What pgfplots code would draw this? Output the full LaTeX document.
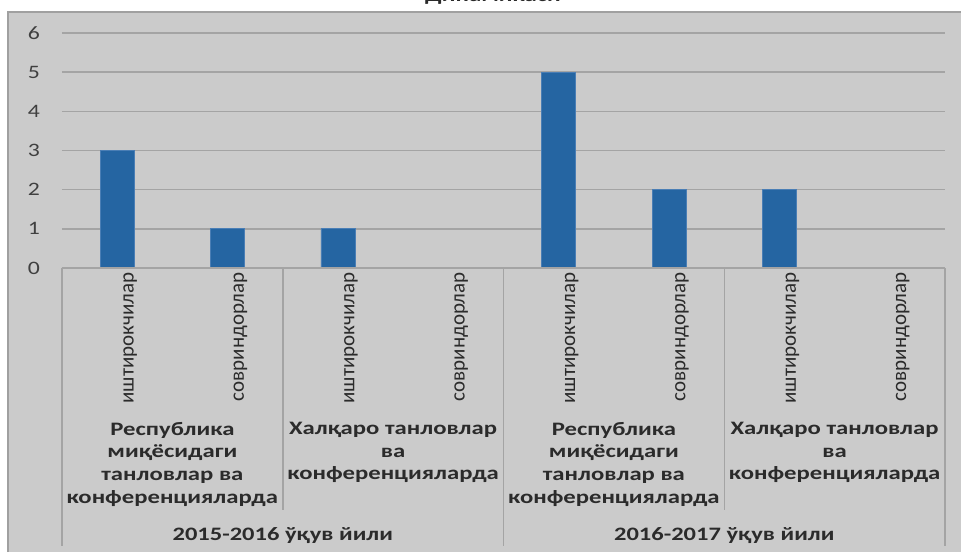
\documentclass[border=0pt]{standalone}
\usepackage{pgfplots}
\pgfplotsset{compat=1.18}
\usepackage{fontspec}
\setmainfont{Carlito}[FakeStretch=1.25]
\newfontfamily\rotfont{Carlito}
\newfontfamily\wfont{Carlito}[FakeStretch=1.3]
\newfontfamily\yrfont{Carlito}[FakeStretch=1.29]

\definecolor{chartbg}{HTML}{CBCBCB}
\definecolor{framec}{HTML}{A0A0A0}
\definecolor{gridc}{HTML}{A4A4A4}
\definecolor{barfill}{HTML}{2565A2}
\definecolor{baredge}{HTML}{4A7EB5}
\definecolor{tickc}{HTML}{404040}
\definecolor{labc}{HTML}{2B2B2B}

\tikzset{
    grp/.style={anchor=north, align=center, inner sep=0pt, text=labc,
                font=\wfont\bfseries\fontsize{19}{22.7}\selectfont},
    yr/.style={anchor=base, inner sep=0pt, text=labc,
               font=\yrfont\bfseries\fontsize{19}{22}\selectfont},
    sep/.style={gridc, line width=1.5pt},
}

\begin{document}
\begin{tikzpicture}[x=1pt,y=1pt]
    \useasboundingbox (0,0) rectangle (961,552);
    \fill[white] (0,0) rectangle (961,552);
    \fill[chartbg] (8,0) rectangle (961,540);
    \draw[framec, line width=1.5pt] (8,0) -- (8,540) -- (961,540);

    % title, mostly cut off by the top edge
    \node[anchor=base, font=\wfont\bfseries\fontsize{19}{22}\selectfont, text=labc]
        at (493,550.5) {Динамикаси};

    \begin{axis}[
        at={(62pt,284pt)},
        anchor=south west,
        scale only axis,
        width=883pt,
        height=235pt,
        xmin=-0.5, xmax=7.5,
        ymin=0, ymax=6,
        ytick={0,...,6},
        xtick={0,...,7},
        xticklabels={иштирокчилар, совриндорлар, иштирокчилар, совриндорлар,
                     иштирокчилар, совриндорлар, иштирокчилар, совриндорлар},
        xticklabel style={rotate=90, anchor=east, inner sep=0pt, yshift=-13pt,
                          font=\rotfont\fontsize{21}{24}\selectfont, text=labc},
        yticklabel style={anchor=east, inner sep=0pt, xshift=-22pt,
                          font=\fontsize{19}{22}\selectfont, text=tickc},
        /pgf/number format/assume math mode=true,
        ymajorgrids,
        grid style={gridc, line width=1.5pt},
        axis line style={draw=none},
        major tick style={draw=none},
        ybar,
        bar width=34pt,
        clip=false,
        ]
        \addplot[fill=barfill, draw=baredge, line width=0.8pt] coordinates {
            (0, 3)
            (1, 1)
            (2, 1)
            (3, 0)
            (4, 5)
            (5, 2)
            (6, 2)
            (7, 0)
        };

        % category axis line and separators
        \draw[sep] (axis cs:-0.5,0) -- (axis cs:7.5,0);
        \draw[sep] (axis cs:-0.5,0) -- ++(0pt,-278pt);
        \draw[sep] (axis cs:3.5,0) -- ++(0pt,-278pt);
        \draw[sep] (axis cs:7.5,0) -- ++(0pt,-278pt);
        \draw[sep] (axis cs:1.5,0) -- ++(0pt,-242pt);
        \draw[sep] (axis cs:5.5,0) -- ++(0pt,-242pt);

        % second level
        \node[grp] at ([yshift=-154pt]axis cs:0.5,0)
            {Республика\\миқёсидаги\\танловлар ва\\конференцияларда};
        \node[grp] at ([yshift=-154pt]axis cs:2.5,0)
            {Халқаро танловлар\\ва\\конференцияларда};
        \node[grp] at ([yshift=-154pt]axis cs:4.5,0)
            {Республика\\миқёсидаги\\танловлар ва\\конференцияларда};
        \node[grp] at ([yshift=-154pt]axis cs:6.5,0)
            {Халқаро танловлар\\ва\\конференцияларда};

        % third level
        \node[yr] at ([yshift=-272pt]axis cs:1.5,0) {2015-2016 ўқув йили};
        \node[yr] at ([yshift=-272pt]axis cs:5.5,0) {2016-2017 ўқув йили};
    \end{axis}
\end{tikzpicture}
\end{document}
